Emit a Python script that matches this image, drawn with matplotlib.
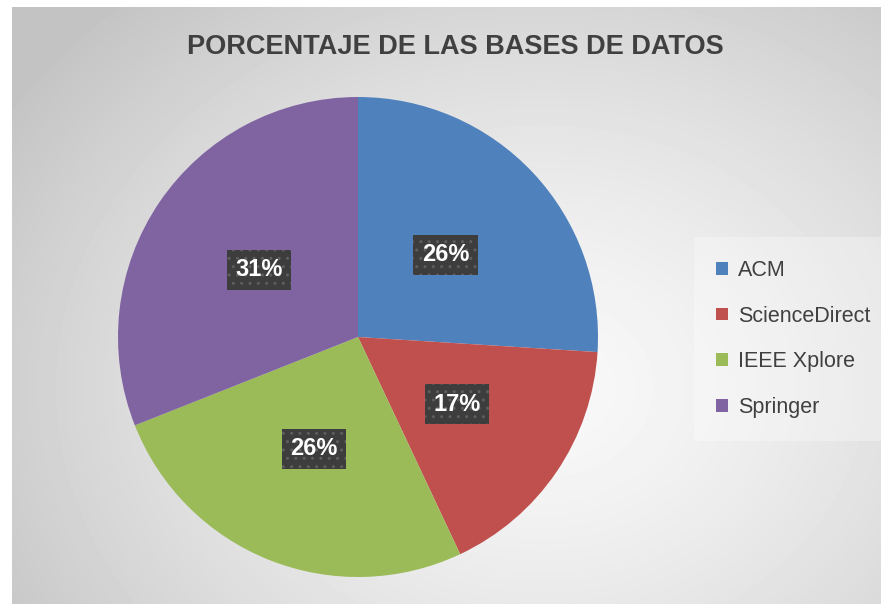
import matplotlib
matplotlib.use("Agg")
import matplotlib.pyplot as plt
from matplotlib.patches import Patch
import numpy as np

# datos
bases = ["ACM", "ScienceDirect", "IEEE Xplore", "Springer"]
porcentajes = [26, 17, 26, 31]
colores = ["#4f81bd", "#c0504d", "#9bbb59", "#8064a2"]
titulo = "PORCENTAJE DE LAS BASES DE DATOS"

W, H = 881, 604
fig = plt.figure(figsize=(W / 100, H / 100), dpi=100)
fig.patch.set_facecolor("white")

# fondo degradado gris
bg = fig.add_axes([12 / W, 0, 1 - 12 / W, 1 - 7 / H])
yy, xx = np.mgrid[0:597, 0:869]
d = np.sqrt(((xx - 530) / 640.0) ** 2 + ((yy - 380) / 520.0) ** 2)
g = 0.975 - 0.21 * np.clip(d, 0, 1) ** 1.4
bg.imshow(g, cmap="gray", vmin=0, vmax=1, aspect="auto", interpolation="bilinear")
bg.axis("off")

# pastel
cx, cy, r = 358, 337, 240
ax = fig.add_axes([(cx - r) / W, (H - cy - r) / H, 2 * r / W, 2 * r / H])
wedges, texts, autotexts = ax.pie(
    porcentajes, colors=colores, startangle=90, counterclock=False,
    autopct="%1.0f%%", pctdistance=0.5,
    wedgeprops=dict(linewidth=0),
    textprops=dict(color="white", fontsize=17, fontweight="bold", family="Liberation Sans"))
for t in autotexts:
    t.set_bbox(dict(boxstyle="square,pad=0.36", facecolor="#3d3d3d", edgecolor="#5e5e5e",
                    linewidth=0, hatch=".."))
ax.set_xlim(-1, 1)
ax.set_ylim(-1, 1)
ax.axis("off")

fig.text(455 / W, 1 - 47 / H, titulo, ha="center", va="center", fontsize=19.5,
         fontweight="bold", color="#404040", family="Liberation Sans")

handles = [Patch(facecolor=c, edgecolor="none") for c in colores]
leg = fig.legend(handles, bases, loc="center left", bbox_to_anchor=(700 / W, 1 - 339 / H),
                 frameon=True, handlelength=0.55, handleheight=0.55,
                 handletextpad=0.45, labelspacing=1.15, borderpad=0.75, borderaxespad=0,
                 prop=dict(family="Liberation Sans", size=15.5))
leg.get_frame().set_facecolor("white")
leg.get_frame().set_alpha(0.3)
leg.get_frame().set_edgecolor("none")
leg.get_frame().set_boxstyle("square")
for t in leg.get_texts():
    t.set_color("#404040")

fig.savefig("out.png", dpi=100)
